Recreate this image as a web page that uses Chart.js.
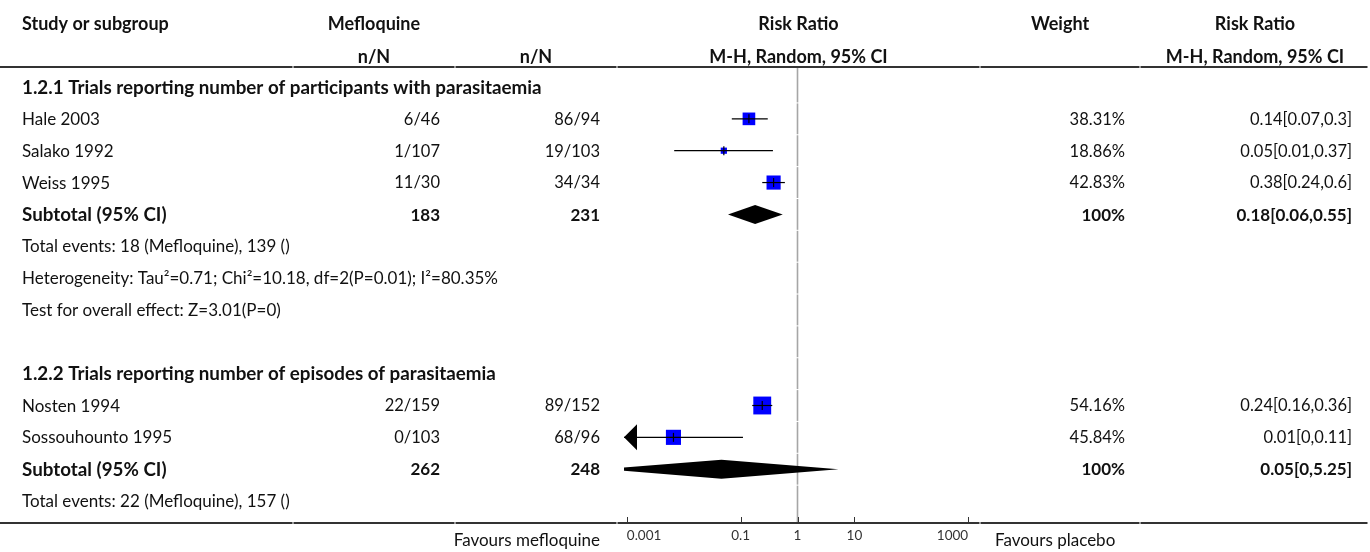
<!DOCTYPE html>
<html>
<head>
<meta charset="utf-8">
<title>Mefloquine vs placebo: parasitaemia</title>
<script src="https://cdn.jsdelivr.net/npm/chart.js@4.4.1/dist/chart.umd.min.js"></script>
<style>
  html, body { margin: 0; padding: 0; background: #ffffff; overflow: hidden; }
  #wrap { position: relative; width: 1370px; height: 552px; }
</style>
</head>
<body>
<div id="wrap"><canvas id="forest" width="1370" height="552"></canvas></div>
<script>
// ---------- data ----------
const groupTitles = [
  '1.2.1 Trials reporting number of participants with parasitaemia',
  '1.2.2 Trials reporting number of episodes of parasitaemia'
];
const studyNames = ['Hale 2003', 'Salako 1992', 'Weiss 1995', 'Nosten 1994', 'Sossouhounto 1995'];
const studyGroup = [0, 0, 0, 1, 1];
const mefloquineEvents = ['6/46', '1/107', '11/30', '22/159', '0/103'];
const controlEvents = ['86/94', '19/103', '34/34', '89/152', '68/96'];
const studyWeights = [38.31, 18.86, 42.83, 54.16, 45.84];
const studyRR = [0.14, 0.0507, 0.38, 0.24, 0.0066];
const studyLower = [0.07, 0.0068, 0.24, 0.16, 0.0004];
const studyUpper = [0.3, 0.37, 0.6, 0.36, 0.11];

const subtotalMefN = [183, 262];
const subtotalCtlN = [231, 248];
const subtotalRR = [0.18, 0.046];
const subtotalLower = [0.06, 0.0004];
const subtotalUpper = [0.55, 5.25];
const totalEventsMef = [18, 22];
const totalEventsCtl = [139, 157];
const heterogeneityText = ['Heterogeneity: Tau\u00B2=0.71; Chi\u00B2=10.18, df=2(P=0.01); I\u00B2=80.35%', null];
const overallEffectText = ['Test for overall effect: Z=3.01(P=0)', null];

const tickValues = [0.001, 0.1, 1, 10, 1000];
const tickLabels = ['0.001', '0.1', '1', '10', '1000'];
const favoursLeft = 'Favours mefloquine';
const favoursRight = 'Favours placebo';

// ---------- styling / layout ----------
const FONT = 'Lato, "Open Sans", sans-serif';
const PROSE = 17, NUM = 16.5, NUM_BOLD = 17, TITLE_BOLD = 18.8, HEAD = 18, TICK = 13.5;
const TEXT = '#111111', RULE = '#333333', NULL_LINE = '#a6a6a6', BOX = '#0000ff';
const COL_EDGES = [0, 293, 455, 617, 980, 1140, 1368];
const X_STUDY = 22, X_MEF = 440, X_CTL = 600, X_WEIGHT = 1125, X_CI = 1352;
const C_MEF = 374, C_CTL = 536, C_PLOT = 798.5, C_WEIGHT = 1060, C_CI = 1255;
const HEAD_Y = [23.5, 56.5];
const ROW_H = 31.85, FIRST_ROW_Y = 87, AREA_TOP = 68, AREA_BOTTOM = 522;
const BOX_PX_PER_WEIGHT = 0.33, DIAMOND_HALF = 9.5, ARROW_LEN = 13, ARROW_HALF = 13;

// ---------- row structure ----------
const rows = [];
groupTitles.forEach((title, g) => {
  if (g > 0) rows.push({ kind: 'blank' });
  rows.push({ kind: 'group', text: title });
  studyNames.forEach((name, i) => { if (studyGroup[i] === g) rows.push({ kind: 'study', i }); });
  rows.push({ kind: 'subtotal', g });
  rows.push({ kind: 'note', text: 'Total events: ' + totalEventsMef[g] + ' (Mefloquine), ' + totalEventsCtl[g] + ' ()' });
  if (heterogeneityText[g]) rows.push({ kind: 'note', text: heterogeneityText[g] });
  if (overallEffectText[g]) rows.push({ kind: 'note', text: overallEffectText[g] });
});
const studyRow = studyNames.map((_, i) => rows.findIndex(r => r.kind === 'study' && r.i === i));
const subtotalRow = subtotalRR.map((_, g) => rows.findIndex(r => r.kind === 'subtotal' && r.g === g));

// risk ratios printed with at most two decimals, trailing zeros dropped
const fmt = v => String(Number(v.toFixed(2)));
const ciText = (m, lo, hi) => fmt(m) + '[' + fmt(lo) + ',' + fmt(hi) + ']';

function put(ctx, s, x, yc, align, bold, size, color) {
  ctx.font = (bold ? 'bold ' : '') + size + 'px ' + FONT;
  ctx.textAlign = align;
  ctx.textBaseline = 'alphabetic';
  ctx.fillStyle = color || TEXT;
  ctx.fillText(s, x, yc + 0.36 * size);
}

function rule(ctx, y, h) {
  ctx.fillStyle = RULE;
  for (let k = 0; k < COL_EDGES.length - 1; k++) {
    const a = COL_EDGES[k] + (k ? 0.5 : 0);
    const b = COL_EDGES[k + 1] - 0.5;
    ctx.fillRect(a, y, b - a, h);
  }
}

const forestTable = {
  id: 'forestTable',
  beforeDatasetsDraw(chart) {
    const { ctx, chartArea: a, scales: { x, y } } = chart;
    const px = x.getPixelForValue(1);
    ctx.save();
    ctx.strokeStyle = NULL_LINE;
    ctx.lineWidth = 1.6;
    rows.forEach((r, k) => {
      const top = k === 0 ? a.top : y.getPixelForValue(k - 0.5) + 0.5;
      const bot = k === rows.length - 1 ? a.bottom : y.getPixelForValue(k + 0.5) - 0.5;
      ctx.beginPath();
      ctx.moveTo(px, top);
      ctx.lineTo(px, bot);
      ctx.stroke();
    });
    ctx.restore();
  },
  afterDatasetsDraw(chart) {
    const { ctx, chartArea: a, scales: { x, y } } = chart;
    ctx.save();
    ctx.beginPath();
    ctx.rect(a.left, a.top, a.right - a.left, a.bottom - a.top);
    ctx.clip();
    ctx.fillStyle = '#000000';
    // pooled estimates as diamonds
    subtotalRR.forEach((m, g) => {
      const yc = y.getPixelForValue(subtotalRow[g]);
      const xl = x.getPixelForValue(subtotalLower[g]);
      const xm = x.getPixelForValue(m);
      const xr = x.getPixelForValue(subtotalUpper[g]);
      ctx.beginPath();
      ctx.moveTo(xl, yc);
      ctx.lineTo(xm, yc - DIAMOND_HALF);
      ctx.lineTo(xr, yc);
      ctx.lineTo(xm, yc + DIAMOND_HALF);
      ctx.closePath();
      ctx.fill();
    });
    // arrows where a confidence interval runs past the axis
    studyLower.forEach((lo, i) => {
      if (lo >= x.min) return;
      const yc = y.getPixelForValue(studyRow[i]);
      ctx.beginPath();
      ctx.moveTo(a.left, yc);
      ctx.lineTo(a.left + ARROW_LEN, yc - ARROW_HALF);
      ctx.lineTo(a.left + ARROW_LEN, yc + ARROW_HALF);
      ctx.closePath();
      ctx.fill();
    });
    ctx.restore();
  },
  afterDraw(chart) {
    const { ctx, chartArea: a, scales: { x, y } } = chart;
    ctx.save();
    // column headings
    put(ctx, 'Study or subgroup', X_STUDY, HEAD_Y[0], 'left', true, HEAD);
    put(ctx, 'Mefloquine', C_MEF, HEAD_Y[0], 'center', true, HEAD);
    put(ctx, 'Risk Ratio', C_PLOT, HEAD_Y[0], 'center', true, HEAD);
    put(ctx, 'Weight', C_WEIGHT, HEAD_Y[0], 'center', true, HEAD);
    put(ctx, 'Risk Ratio', C_CI, HEAD_Y[0], 'center', true, HEAD);
    put(ctx, 'n/N', C_MEF, HEAD_Y[1], 'center', true, HEAD);
    put(ctx, 'n/N', C_CTL, HEAD_Y[1], 'center', true, HEAD);
    put(ctx, 'M-H, Random, 95% CI', C_PLOT, HEAD_Y[1], 'center', true, HEAD);
    put(ctx, 'M-H, Random, 95% CI', C_CI, HEAD_Y[1], 'center', true, HEAD);
    rule(ctx, 66, 2);

    // table body
    rows.forEach((r, k) => {
      const yc = y.getPixelForValue(k);
      if (r.kind === 'group') {
        put(ctx, r.text, X_STUDY, yc, 'left', true, TITLE_BOLD);
      } else if (r.kind === 'note') {
        put(ctx, r.text, X_STUDY, yc, 'left', false, PROSE);
      } else if (r.kind === 'study') {
        const i = r.i;
        put(ctx, studyNames[i], X_STUDY, yc, 'left', false, PROSE);
        put(ctx, mefloquineEvents[i], X_MEF, yc, 'right', false, NUM);
        put(ctx, controlEvents[i], X_CTL, yc, 'right', false, NUM);
        put(ctx, studyWeights[i].toFixed(2) + '%', X_WEIGHT, yc, 'right', false, NUM);
        put(ctx, ciText(studyRR[i], studyLower[i], studyUpper[i]), X_CI, yc, 'right', false, NUM);
      } else if (r.kind === 'subtotal') {
        const g = r.g;
        put(ctx, 'Subtotal (95% CI)', X_STUDY, yc, 'left', true, TITLE_BOLD);
        put(ctx, String(subtotalMefN[g]), X_MEF, yc, 'right', true, NUM_BOLD);
        put(ctx, String(subtotalCtlN[g]), X_CTL, yc, 'right', true, NUM_BOLD);
        put(ctx, '100%', X_WEIGHT, yc, 'right', true, NUM_BOLD);
        put(ctx, ciText(subtotalRR[g], subtotalLower[g], subtotalUpper[g]), X_CI, yc, 'right', true, NUM_BOLD);
      }
    });

    // axis line and tick marks
    rule(ctx, a.bottom, 2);
    ctx.strokeStyle = RULE;
    ctx.lineWidth = 1;
    tickValues.forEach(v => {
      const px = Math.round(x.getPixelForValue(v)) + 0.5;
      ctx.beginPath();
      ctx.moveTo(px, a.bottom - 5);
      ctx.lineTo(px, a.bottom);
      ctx.stroke();
    });
    put(ctx, favoursLeft, X_CTL, 540, 'right', false, PROSE);
    put(ctx, favoursRight, COL_EDGES[4] + 15, 540, 'left', false, PROSE);
    ctx.restore();
  }
};

// ---------- datasets ----------
const ciDatasets = studyNames.map((name, i) => ({
  type: 'scatter',
  label: name,
  data: [{ x: studyLower[i], y: studyRow[i] }, { x: studyUpper[i], y: studyRow[i] }],
  showLine: true,
  borderColor: '#000000',
  borderWidth: 1.2,
  pointRadius: 0,
  order: 2
}));

const boxDataset = {
  type: 'scatter',
  label: 'weights',
  data: studyNames.map((_, i) => ({ x: studyRR[i], y: studyRow[i] })),
  pointStyle: 'rect',
  pointRadius: studyWeights.map(w => w * BOX_PX_PER_WEIGHT / Math.SQRT2),
  pointHoverRadius: studyWeights.map(w => w * BOX_PX_PER_WEIGHT / Math.SQRT2),
  backgroundColor: BOX,
  borderWidth: 0,
  order: 3
};

const pointDataset = {
  type: 'scatter',
  label: 'estimates',
  data: studyNames.map((_, i) => ({ x: studyRR[i], y: studyRow[i] })),
  pointStyle: 'line',
  pointRotation: 90,
  pointRadius: 4.5,
  pointHoverRadius: 4.5,
  borderColor: '#000000',
  pointBorderColor: '#000000',
  borderWidth: 1.2,
  order: 1
};

new Chart(document.getElementById('forest'), {
  type: 'scatter',
  data: { datasets: [pointDataset, ...ciDatasets, boxDataset] },
  options: {
    responsive: false,
    animation: false,
    devicePixelRatio: 1,
    events: [],
    layout: { padding: { left: 624, right: 399, top: AREA_TOP, bottom: 0 } },
    plugins: { legend: { display: false }, tooltip: { enabled: false } },
    scales: {
      x: {
        type: 'logarithmic',
        position: 'bottom',
        min: Math.pow(10, -3.05),
        max: Math.pow(10, 3.05),
        afterBuildTicks: s => { s.ticks = tickValues.map(v => ({ value: v })); },
        afterFit: s => { s.height = 552 - AREA_BOTTOM; },
        grid: { display: false, drawTicks: false },
        border: { display: false },
        ticks: {
          autoSkip: false,
          maxRotation: 0,
          align: 'inner',
          padding: 6,
          color: '#333333',
          font: { family: FONT, size: TICK },
          callback: (v, i) => tickLabels[i]
        }
      },
      y: {
        type: 'linear',
        display: false,
        reverse: true,
        min: -(FIRST_ROW_Y - AREA_TOP) / ROW_H,
        max: 13 + (AREA_BOTTOM - FIRST_ROW_Y - 13 * ROW_H) / ROW_H
      }
    }
  },
  plugins: [forestTable]
});
</script>
</body>
</html>
